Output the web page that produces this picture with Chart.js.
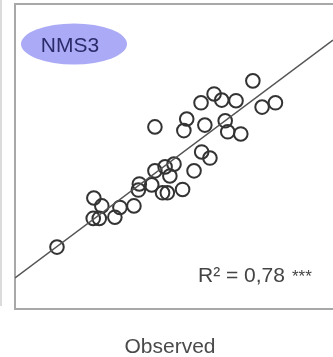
<!DOCTYPE html>
<html>
<head>
<meta charset="utf-8">
<script src="https://cdn.jsdelivr.net/npm/chart.js@4"></script>
<style>
  html, body { margin: 0; padding: 0; background: #fff; }
  #wrap { width: 333px; height: 357px; position: relative; }
</style>
</head>
<body>
<div id="wrap"><canvas id="plot"></canvas></div>
<script>
// observed (x) vs predicted (y)
const observed = [1.32, 2.48, 2.73, 2.46, 2.65, 3.14, 3.30, 3.74, 3.88, 3.91,
    4.30, 4.40, 4.72, 5.00, 4.87, 4.64, 4.79, 5.27, 5.63, 5.87,
    6.13, 5.40, 5.31, 5.97, 6.61, 6.69, 7.10, 5.85, 6.26, 6.50,
    6.95, 7.77, 8.19, 7.48, 4.40];
const predicted = [2.03, 3.64, 3.38, 2.97, 2.97, 3.01, 3.33, 3.38, 3.90, 4.10,
    4.07, 4.53, 4.66, 4.75, 4.36, 3.81, 3.81, 3.92, 4.53, 5.15,
    4.95, 6.23, 5.85, 6.03, 6.17, 5.81, 5.74, 6.76, 7.05, 6.85,
    6.83, 6.62, 6.76, 7.48, 5.97];
const fitX = [0, 10];
const fitY = [1.02, 8.82];
const panelLabel = 'NMS3';
const statLabel = 'R² = 0,78';
const statStars = '***';
const xTitle = 'Observed';

const FONT = '"Liberation Sans", Arial, sans-serif';

const decorations = {
    id: 'decorations',
    beforeDatasetsDraw(chart) {
        const ctx = chart.ctx;
        const a = chart.chartArea;
        ctx.save();
        // frame (left, top, bottom)
        ctx.strokeStyle = '#a8a8a8';
        ctx.lineWidth = 2;
        ctx.beginPath();
        ctx.moveTo(chart.width, a.top);
        ctx.lineTo(a.left, a.top);
        ctx.lineTo(a.left, a.bottom);
        ctx.lineTo(chart.width, a.bottom);
        ctx.stroke();
        // edge of the neighbouring panel
        ctx.strokeStyle = '#cfcfcf';
        ctx.lineWidth = 1.5;
        ctx.beginPath();
        ctx.moveTo(1, 0);
        ctx.lineTo(1, a.bottom - 3);
        ctx.stroke();
        ctx.restore();
    },
    afterDraw(chart) {
        const ctx = chart.ctx;
        const a = chart.chartArea;
        ctx.save();
        // panel label in an ellipse
        ctx.fillStyle = '#abaaf6';
        ctx.beginPath();
        ctx.ellipse(a.left + 59, a.top + 40, 53, 20.5, 0, 0, Math.PI * 2);
        ctx.fill();
        ctx.fillStyle = '#2b2b6b';
        ctx.font = '21px ' + FONT;
        ctx.textAlign = 'center';
        ctx.textBaseline = 'alphabetic';
        ctx.fillText(panelLabel, a.left + 55, a.top + 48);
        // R² and stars
        ctx.fillStyle = '#444';
        ctx.textAlign = 'left';
        ctx.fillText(statLabel, 198, 282);
        const w = ctx.measureText(statLabel).width;
        ctx.font = '17px ' + FONT;
        ctx.fillText(statStars, 198 + w + 7, 282);
        // axis title
        ctx.font = '21px ' + FONT;
        ctx.textAlign = 'center';
        ctx.fillStyle = '#4a4a4a';
        ctx.fillText(xTitle, 170, 353);
        ctx.restore();
    }
};

new Chart(document.getElementById('plot'), {
    type: 'scatter',
    data: {
        datasets: [
            {
                label: 'fit',
                type: 'line',
                data: fitX.map((x, i) => ({ x: x, y: fitY[i] })),
                borderColor: '#555',
                borderWidth: 1.5,
                pointRadius: 0,
                fill: false
            },
            {
                label: 'sites',
                data: observed.map((x, i) => ({ x: x, y: predicted[i] })),
                pointRadius: 6.8,
                pointBorderWidth: 2,
                borderColor: '#333',
                backgroundColor: 'rgba(0,0,0,0)'
            }
        ]
    },
    options: {
        responsive: true,
        maintainAspectRatio: false,
        animation: false,
        layout: { autoPadding: false, padding: { left: 15, top: 4, right: 0, bottom: 48 } },
        plugins: { legend: { display: false }, tooltip: { enabled: false } },
        scales: {
            x: { type: 'linear', min: 0, max: 10, display: false },
            y: { type: 'linear', min: 0, max: 10, display: false }
        }
    },
    plugins: [decorations]
});
</script>
</body>
</html>
